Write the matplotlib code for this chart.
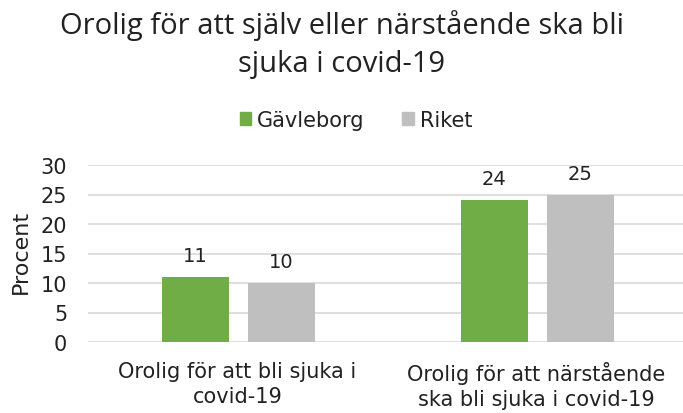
import numpy as np
import matplotlib.pyplot as plt
from matplotlib.patches import Patch

categories = ["Orolig för att bli sjuka i\ncovid-19",
              "Orolig för att närstående\nska bli sjuka i covid-19"]
gavleborg = [11, 24]
riket = [10, 25]
series_names = ["Gävleborg", "Riket"]
title = "Orolig för att själv eller närstående ska bli\nsjuka i covid-19"

green = "#70AD47"
grey = "#BFBFBF"
txt = "#222222"

plt.rcParams['font.family'] = ['DejaVu Sans']

fig = plt.figure(figsize=(6.83, 4.14), dpi=100)
ax = fig.add_axes([88 / 683, 1 - 343 / 414, 598 / 683, 177 / 414])

x = np.arange(len(categories))
w = 0.224
off = [-0.142, 0.146]
for vals, col, o in [(gavleborg, green, off[0]), (riket, grey, off[1])]:
    ax.bar(x + o, vals, w, color=col, zorder=3)
    for xi, v in zip(x + o, vals):
        ax.text(xi, v + 2.7, str(v), ha='center', va='baseline', fontsize=14, color=txt)

ax.set_xlim(-0.5, 1.5)
ax.set_ylim(0, 30)
ax.set_yticks(range(0, 31, 5))
ax.yaxis.grid(True, color='#D9D9D9', linewidth=1.2, zorder=0)
for s in ax.spines.values():
    s.set_visible(False)
ax.tick_params(axis='both', length=0, colors=txt)
ax.tick_params(axis='y', pad=15, labelsize=15)
ax.set_xticks(x)
ax.set_xticklabels(categories, fontsize=15, linespacing=1.3)
ax.tick_params(axis='x', pad=14)
ax.set_ylabel("Procent", fontsize=16, color=txt)
ax.yaxis.label.set_va('center')
ax.yaxis.set_label_coords(-0.112, 0.514)

fig.text(0.5, 1 - 10 / 414, title,
         ha='center', va='top', fontsize=21, color=txt, family=['Open Sans', 'DejaVu Sans'],
         linespacing=1.4)

handles = [Patch(color=green), Patch(color=grey)]
fig.legend(handles, series_names, loc='center', bbox_to_anchor=(356 / 683, 1 - 121 / 414), ncol=2,
           frameon=False, fontsize=15, labelcolor=txt, handlelength=0.55, handleheight=0.55,
           handletextpad=0.3, columnspacing=1.8)

fig.savefig("out.png", dpi=100)
